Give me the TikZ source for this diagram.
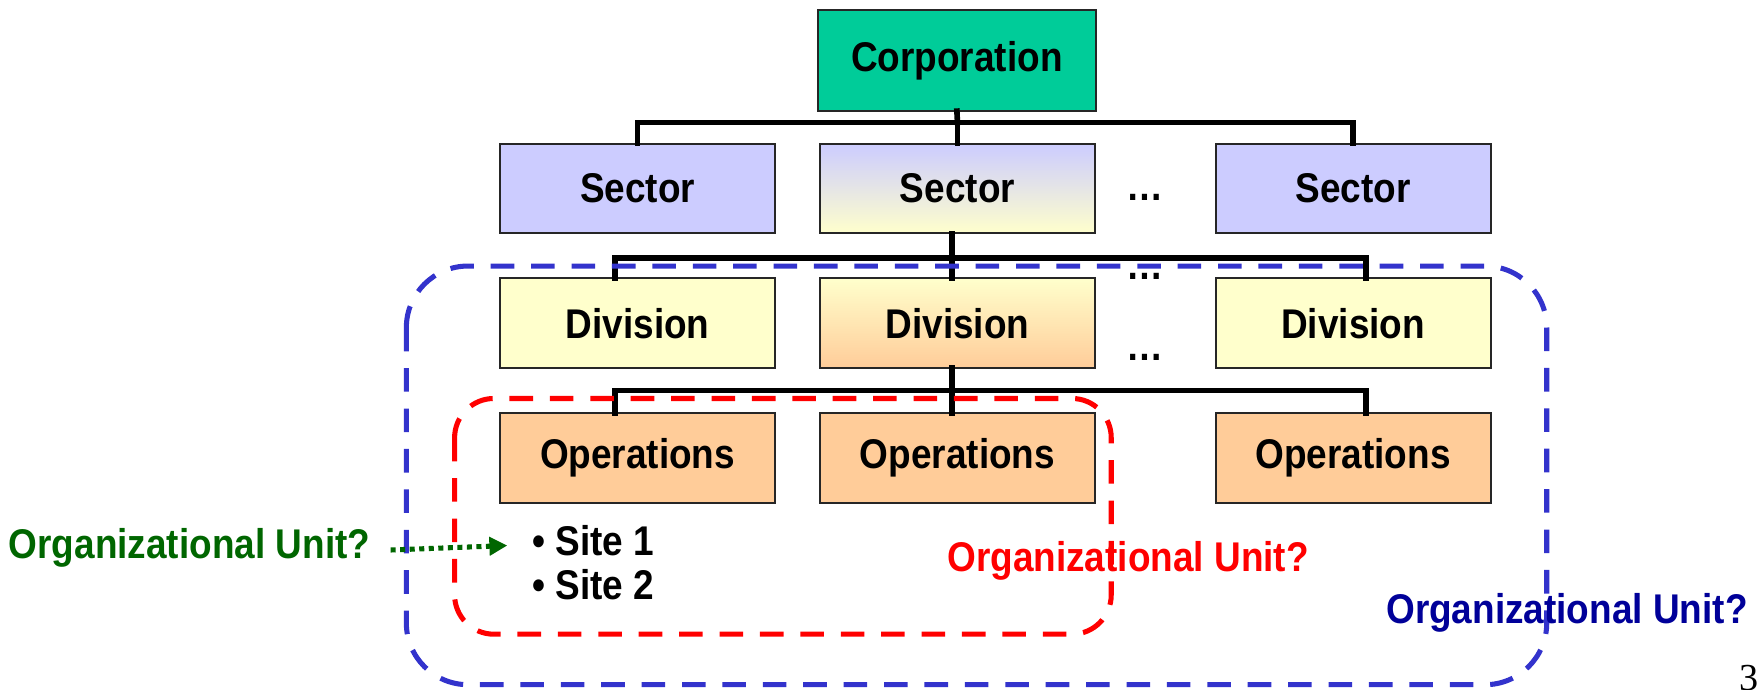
\documentclass[tikz,border=0pt]{standalone}
\usepackage{fontspec}
\setmainfont[FakeStretch=0.89]{Liberation Sans}
\newfontfamily\pagefont{Liberation Serif}
\usetikzlibrary{arrows.meta}
\definecolor{corpc}{HTML}{00CC99}
\definecolor{secc}{HTML}{CCCCFF}
\definecolor{divc}{HTML}{FFFFCC}
\definecolor{opc}{HTML}{FFCC99}
\definecolor{bluebox}{HTML}{3333CC}
\definecolor{bluetxt}{HTML}{000099}
\definecolor{greentxt}{HTML}{006600}
\tikzset{
  box/.style={draw=black!85, line width=1.8pt, inner sep=0pt, outer sep=0pt,
    minimum width=245pt, minimum height=80pt,
    font=\fontsize{37}{44}\selectfont\bfseries},
  conn/.style={line width=5pt, line join=miter, line cap=rect},
  ouframe/.style={line width=4.5pt, dash pattern=on 21pt off 15pt},
  oulabel/.style={font=\fontsize{37}{44}\selectfont\bfseries, inner sep=0pt},
  sitetext/.style={font=\fontsize{37}{44}\selectfont\bfseries, inner sep=0pt, anchor=west},
  dots/.style={font=\fontsize{37}{44}\selectfont\bfseries, inner sep=0pt}
}
\begin{document}
\begin{tikzpicture}[x=1pt,y=-1pt]
\useasboundingbox (0,0) rectangle (1568,614);
% boxes
\node[box, fill=corpc, minimum width=247pt, minimum height=90pt] (corp) at (852.5,54) {Corporation};
\node[box, fill=secc] (sec1) at (568,168) {Sector};
\node[box, top color=secc, bottom color=divc] (sec2) at (853,168) {Sector};
\node[box, fill=secc] (sec3) at (1205.5,168) {Sector};
\node[box, fill=divc] (div1) at (568,288) {Division};
\node[box, top color=divc, bottom color=opc] (div2) at (853,288) {Division};
\node[box, fill=divc] (div3) at (1205.5,288) {Division};
\node[box, fill=opc] (op1) at (568,408) {Operations};
\node[box, fill=opc] (op2) at (853,408) {Operations};
\node[box, fill=opc] (op3) at (1205.5,408) {Operations};
% dots
\node[dots] (d1) at (1020,176) {\dots};
\node[dots] (d2) at (1020,246) {\dots};
\node[dots] (d3) at (1020,318) {\dots};
% connectors level 1
\coordinate (b1) at (853,109);
\draw[conn] (corp.south) -- (b1);
\draw[conn] (sec1.north) |- (b1) -| (sec3.north);
\draw[conn] (b1) -- (sec2.north);
% level 2
\coordinate (b2) at (848,230);
\coordinate (t2) at (848,208);
\draw[conn] (t2) -- (b2);
\draw[conn] ([xshift=-20pt]div1.north) |- (b2) -| ([xshift=11.5pt]div3.north);
\draw[conn] (b2) -- (div2.north -| b2);
% level 3
\coordinate (b3) at (848,348);
\coordinate (t3) at (848,328);
\draw[conn] (t3) -- (b3);
\draw[conn] ([xshift=-20pt]op1.north) |- (b3) -| ([xshift=11.5pt]op3.north);
\draw[conn] (b3) -- (op2.north -| b3);
% sites
\node[sitetext] (site1) at (474,482) {\textbullet\ Site 1};
\node[sitetext] (site2) at (474,521) {\textbullet\ Site 2};
% organizational unit frames
\draw[ouframe, draw=bluebox, rounded corners=55pt] (362,237) rectangle (1378,610);
\draw[ouframe, draw=red, rounded corners=35pt] (405,355) rectangle (990,565);
% labels
\node[oulabel, text=greentxt, anchor=east] (glab) at (330,488) {Organizational Unit?};
\coordinate (garrow) at (452,486);
\draw[greentxt, line width=4.5pt, dash pattern=on 4.5pt off 4pt, -{Triangle[length=16pt,width=16pt]}] ([xshift=18pt,yshift=-2pt]glab.east) -- (garrow);
\node[oulabel, text=red] (rlab) at (1005,500) {Organizational Unit?};
\node[oulabel, text=bluetxt] (blab) at (1396,546) {Organizational Unit?};
\node[font=\pagefont\fontsize{34}{40}\selectfont, inner sep=0pt, anchor=east] (pg) at (1567,604) {3};
\end{tikzpicture}
\end{document}
